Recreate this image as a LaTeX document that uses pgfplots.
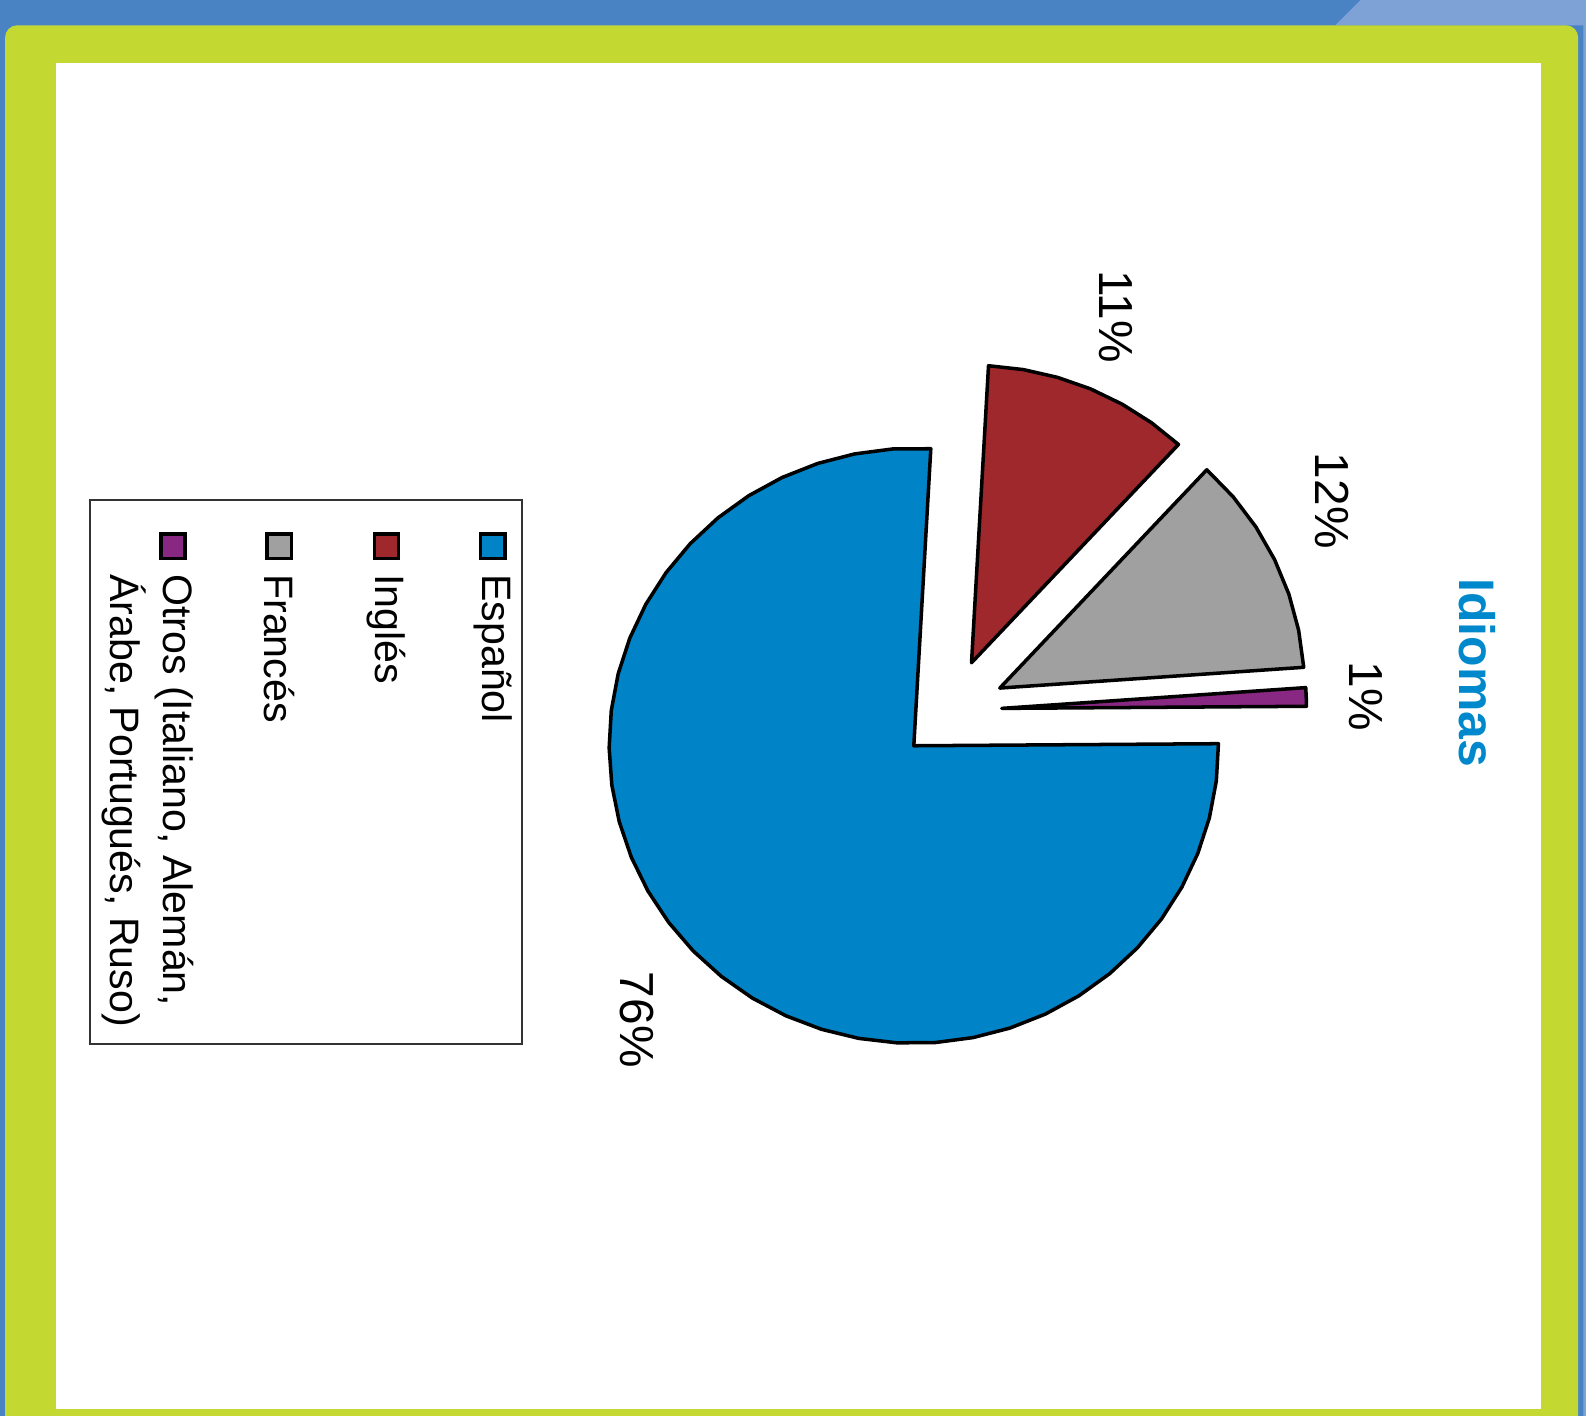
\documentclass[border=0pt]{standalone}
\usepackage{fontspec}
\setmainfont{Liberation Sans}
\usepackage{pgfplots}
\pgfplotsset{compat=1.18}

\definecolor{bgblue}{RGB}{74,131,196}
\definecolor{bglight}{RGB}{127,162,214}
\definecolor{frame}{RGB}{195,217,50}
\definecolor{esp}{RGB}{0,132,199}
\definecolor{ing}{RGB}{158,40,44}
\definecolor{fra}{RGB}{160,160,160}
\definecolor{otr}{RGB}{136,40,130}
\definecolor{titblue}{RGB}{0,136,204}

% shares: Espanol 76, Ingles 11, Frances 12, Otros 1
% slices are given as (angle, radius), angles in degrees, chart turned by -90
\pgfplotsset{slice/.style={data cs=polar, draw=black, line width=1pt, line join=round}}

\begin{document}
\begin{tikzpicture}
\useasboundingbox (0,0) rectangle (15.86,14.15);
\begin{scope}[x=0.01012cm, y=-0.01012cm, shift={(0,14.15cm)}]
  \fill[bgblue] (0,0) rectangle (1600,1420);
  \fill[bglight] (1345,0) -- (1600,0) -- (1600,1420) -- (1565,1420) -- (1565,25) -- (1320,25) -- cycle;
  \fill[frame, rounded corners=3.5pt] (5,25) rectangle (1560,1460);
  \fill[white] (55,62) rectangle (1523,1393);
\end{scope}

\begin{axis}[at={(0,0)}, anchor=south west, scale only axis,
  width=15.86cm, height=14.15cm,
  xmin=-881.8, xmax=648.7, ymin=-661.3, ymax=737,
  hide axis, clip=false]
% Espanol 76%
\addplot[slice, fill=esp] coordinates {
(0,0)
(86.8,294) (94,294) (101.2,294) (108.4,294) (115.6,294) (122.8,294)
(130,294) (137.2,294) (144.4,294) (151.6,294) (158.8,294) (166,294)
(173.2,294) (180.4,294) (187.6,294) (194.8,294) (202,294) (209.2,294)
(216.4,294) (223.6,294) (230.8,294) (238,294) (245.2,294) (252.4,294)
(259.6,294) (266.8,294) (274,294) (281.2,294) (288.4,294) (295.6,294)
(302.8,294) (310,294) (317.2,294) (324.4,294) (331.6,294) (338.8,294)
(346,294) (353.2,294) (360.4,294)
} -- cycle;
% Ingles 11%
\addplot[slice, fill=ing, xshift=0.577cm, yshift=0.83cm] coordinates {
(0,0)
(47.2,294) (53.8,294) (60.4,294) (67,294) (73.6,294) (80.2,294) (86.8,294)
} -- cycle;
% Frances 12%
\addplot[slice, fill=fra, xshift=0.86cm, yshift=0.577cm] coordinates {
(0,0)
(4,294) (11.2,294) (18.4,294) (25.6,294) (32.8,294) (40,294) (47.2,294)
} -- cycle;
% Otros 1%
\addplot[slice, fill=otr, xshift=0.88cm, yshift=0.374cm] coordinates {
(0,0)
(0.4,294) (2.2,294) (4,294)
} -- cycle;
\end{axis}

\begin{scope}[x=0.01012cm, y=-0.01012cm, shift={(0,14.15cm)}]
  % title and value labels
  \node[rotate=-90, text=titblue, font=\fontsize{14.2}{16}\selectfont\bfseries] at (1460,665) {Idiomas};
  \begin{scope}[every node/.style={rotate=-90, font=\fontsize{13.6}{16}\selectfont}]
    \node at (630,1008) {76\%};
    \node at (1103,313) {11\%};
    \node at (1317,495) {12\%};
    \node at (1350,688) {1\%};
  \end{scope}
  % legend
  \draw[black!80, line width=0.6pt] (89,494) rectangle (516,1032);
  \begin{scope}[every node/.style={rotate=-90, anchor=west, inner sep=0pt,
      font=\fontsize{11.7}{15}\selectfont}]
    \filldraw[fill=esp, draw=black, line width=1pt] (475,528) rectangle (499,552);
    \node at (487,567) {Español};
    \filldraw[fill=ing, draw=black, line width=1pt] (370,528) rectangle (394,552);
    \node at (382,567) {Inglés};
    \filldraw[fill=fra, draw=black, line width=1pt] (264,528) rectangle (288,552);
    \node at (276,567) {Francés};
    \filldraw[fill=otr, draw=black, line width=1pt] (159,528) rectangle (183,552);
    \node[align=left] at (146,567) {Otros (Italiano, Alemán,\\Árabe, Portugués, Ruso)};
  \end{scope}
\end{scope}
\end{tikzpicture}
\end{document}
